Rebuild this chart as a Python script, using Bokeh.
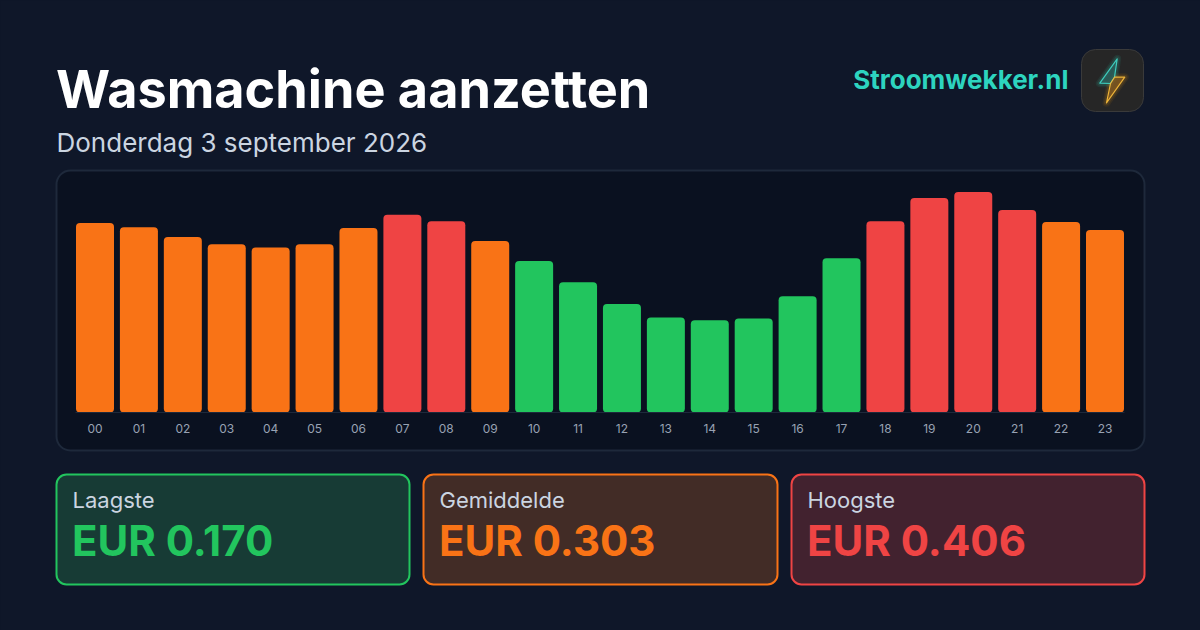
from bokeh.embed import file_html
from bokeh.models import BoxAnnotation, ColumnDataSource, FixedTicker, Label, Range1d
from bokeh.plotting import figure
from bokeh.resources import INLINE

hours = ["00","01","02","03","04","05","06","07","08","09","10","11",
         "12","13","14","15","16","17","18","19","20","21","22","23"]
prices = [0.349,0.341,0.323,0.310,0.304,0.310,0.340,0.364,0.352,0.316,0.279,0.240,
          0.200,0.175,0.170,0.173,0.214,0.284,0.352,0.395,0.406,0.373,0.351,0.336]
levels = ["mid","mid","mid","mid","mid","mid","mid","high","high","mid","low","low",
          "low","low","low","low","low","low","high","high","high","high","mid","mid"]
palette = {"low":"#22c55e","mid":"#f97316","high":"#ef4444"}
title = "Wasmachine aanzetten"
subtitle = "Donderdag 3 september 2026"
brand = "Stroomwekker.nl"
stat_names = ["Laagste","Gemiddelde","Hoogste"]
stat_values = ["EUR 0.170","EUR 0.303","EUR 0.406"]

BG = "#0f1729"
W, H = 1200, 630
X0, DX = 94.5, 43.913      # pixel of hour 0, pixels per hour
Y0, DY = 412.0, 543.0      # baseline pixel, pixels per EUR
positions = [int(h) for h in hours]
p = figure(width=W, height=H, output_backend="svg", toolbar_location=None, tools="",
           x_range=Range1d(-X0/DX, (W-X0)/DX),
           y_range=Range1d((Y0-H)/DY, Y0/DY), y_axis_location=None,
           min_border=0, min_border_left=0, min_border_right=0, min_border_top=0, min_border_bottom=0)
p.extra_x_ranges["px"] = Range1d(0, W)
p.extra_y_ranges["px"] = Range1d(H, 0)
p.background_fill_color = BG
p.border_fill_color = BG
p.outline_line_color = None
p.grid.visible = False

ax = p.xaxis[0]
ax.fixed_location = 0
ax.ticker = FixedTicker(ticks=positions)
ax.major_label_overrides = dict(zip(positions, hours))
ax.bounds = (-0.45, 23.45)
ax.axis_line_color = "#1e293b"
ax.axis_line_width = 1
ax.major_tick_line_color = None
ax.minor_tick_line_color = None
ax.major_label_text_color = "#98a2b3"
ax.major_label_text_font = "Inter"
ax.major_label_text_font_size = "12px"
ax.major_label_standoff = 5

def box(l, r, t, b, fill, line, radius, width=2):
    p.add_layout(BoxAnnotation(left=l, right=r, top=t, bottom=b, x_range_name="px", y_range_name="px",
                               fill_color=fill, fill_alpha=1, line_color=line, line_width=width, line_alpha=1,
                               border_radius=radius, level="underlay", editable=False))

def label(x, y, text, size, color, bold=False, align="left"):
    p.add_layout(Label(x=x, y=y, x_range_name="px", y_range_name="px", text=text,
                       text_font="Inter", text_font_size=f"{size}px", text_color=color,
                       text_font_style="bold" if bold else "normal",
                       text_align=align, text_baseline="alphabetic"))

def poly(xs, ys, fill, falpha, line, lalpha, width):
    p.patch(xs, ys, x_range_name="px", y_range_name="px", fill_color=fill, fill_alpha=falpha,
            line_color=line, line_alpha=lalpha, line_width=width, line_join="round")

# chart panel
box(56, 1144, 170, 450, "#0a1120", "#1e293b", 14)

# stat cards
cards = [(56, 409, "#173b35", "#22c55e"), (423, 777, "#422c26", "#f97316"), (791, 1144, "#42222f", "#ef4444")]
for (l, r, fill, col), name, val in zip(cards, stat_names, stat_values):
    box(l, r, 474, 584, fill, col, 10)
    label(l + 16, 499, name, 22, "#cbd5e1")
    label(l + 15.5, 540.2, val, 42, col, bold=True)

# bars
src = ColumnDataSource(dict(hour=positions, price=prices, color=[palette[k] for k in levels]))
p.vbar(x="hour", top="price", bottom=0, width=38/DX, source=src, color="color", line_color=None,
       border_radius=4)

# header
label(55.5, 88.5, title, 52.2, "#ffffff", bold=True)
label(56, 142, subtitle, 26, "#cbd5e1")
label(1068, 79.2, brand, 26, "#2dd4bf", bold=True, align="right")

# logo
box(1081, 1143, 49, 111, "#262626", "#3a3a3a", 14, width=1)
top_x = [1116.7, 1099.3, 1110, 1114]
top_y = [58.3, 82.7, 83, 76.7]
low_x = [1110, 1106, 1124.3, 1114]
low_y = [83, 102.3, 76.7, 76.7]
for w, a in [(8, 0.08), (5, 0.12)]:
    poly(top_x, top_y, "#2dd4bf", 0.1, "#2dd4bf", a, w)
    poly(low_x, low_y, "#f59e0b", 0.1, "#f59e0b", a, w)
poly(top_x, top_y, "#2a5a58", 0.8, "#40d8c8", 0.9, 1.2)
poly(low_x, low_y, "#7a5520", 0.8, "#fbbf3c", 0.9, 1.2)

html = file_html(p, INLINE)
html = html.replace("<body>", f'<body style="background:{BG}">')
open("out.html", "w").write(html)
